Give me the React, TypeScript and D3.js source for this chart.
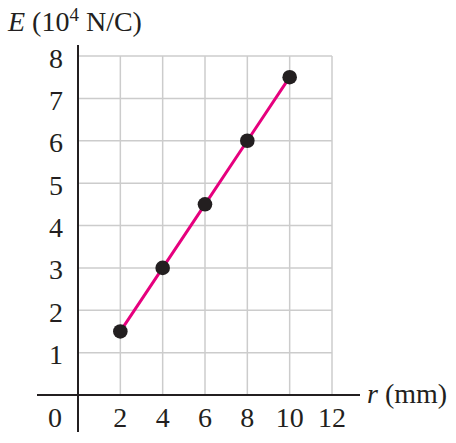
import * as React from 'react'
import * as d3 from 'd3'

const rValues = [2, 4, 6, 8, 10]
const eValues = [1.5, 3, 4.5, 6, 7.5]
const xTicks = [2, 4, 6, 8, 10, 12]
const yTicks = [1, 2, 3, 4, 5, 6, 7, 8]

const W = 456
const H = 443

export default function App() {
  const x = d3.scaleLinear().domain([0, 12]).range([78, 332])
  const y = d3.scaleLinear().domain([0, 8]).range([395, 56])

  const pts = rValues.map((r, i) => [r, eValues[i]] as [number, number])
  const line = d3
    .line<[number, number]>()
    .x((d) => x(d[0]))
    .y((d) => y(d[1]))

  const font = '"Liberation Serif", "Times New Roman", serif'
  const grid = '#cccccc'
  const ink = '#231f20'

  return (
    <svg
      width={W}
      height={H}
      style={{ position: 'absolute', left: 0, top: 0, background: '#fff' }}
      fontFamily={font}
    >
      {/* grid */}
      {xTicks.map((t) => (
        <line key={'gx' + t} x1={x(t)} x2={x(t)} y1={y(8)} y2={y(0)} stroke={grid} strokeWidth={1.5} />
      ))}
      {yTicks.map((t) => (
        <line key={'gy' + t} x1={x(0)} x2={x(12)} y1={y(t)} y2={y(t)} stroke={grid} strokeWidth={1.5} />
      ))}

      {/* axes */}
      <line x1={37} x2={360} y1={y(0)} y2={y(0)} stroke={ink} strokeWidth={2} />
      <line x1={x(0)} x2={x(0)} y1={45} y2={432} stroke={ink} strokeWidth={2} />

      {/* data */}
      <path d={line(pts) || ''} fill="none" stroke="#e6007e" strokeWidth={3} />
      {pts.map((d, i) => (
        <circle key={i} cx={x(d[0])} cy={y(d[1])} r={7.3} fill={ink} />
      ))}

      {/* tick labels */}
      {yTicks.map((t) => (
        <text key={'ly' + t} x={63} y={y(t) + 11.5} textAnchor="end" fontSize={28} fill={ink}>
          {t}
        </text>
      ))}
      <text x={55} y={427} textAnchor="middle" fontSize={28} fill={ink}>0</text>
      {xTicks.map((t) => (
        <text key={'lx' + t} x={x(t)} y={427} textAnchor="middle" fontSize={28} fill={ink}>
          {t}
        </text>
      ))}

      {/* axis titles */}
      <text x={8} y={31} fontSize={28} fill={ink}>
        <tspan fontStyle="italic">E</tspan>
        <tspan> (10</tspan>
        <tspan fontSize={19} dy={-10}>4</tspan>
        <tspan dy={10}> N/C)</tspan>
      </text>
      <text x={367} y={403} fontSize={28} fill={ink}>
        <tspan fontStyle="italic">r</tspan>
        <tspan> (mm)</tspan>
      </text>
    </svg>
  )
}
